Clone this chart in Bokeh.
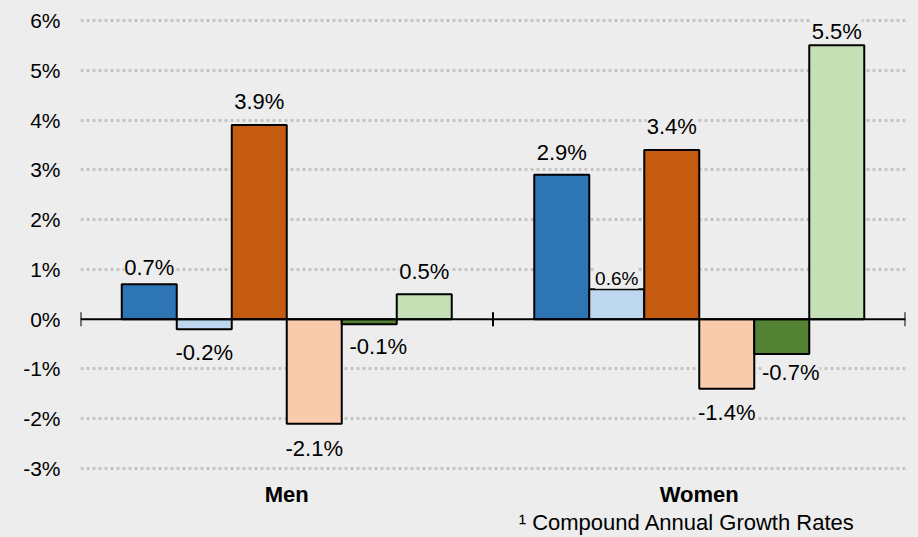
import math
from bokeh.plotting import figure
from bokeh.models import (ColumnDataSource, LabelSet, FixedTicker, PrintfTickFormatter,
                          LinearAxis, Span, Range1d)
from bokeh.core.properties import value
from bokeh.embed import file_html
from bokeh.resources import INLINE

groups = ["Men", "Women"]
series_colors = ["#2e75b6", "#bdd7ee", "#c55a11", "#f8cbad", "#548235", "#c5e0b4"]
men_values = [0.7, -0.2, 3.9, -2.1, -0.1, 0.5]
women_values = [2.9, 0.6, 3.4, -1.4, -0.7, 5.5]
y_ticks = [-3, -2, -1, 0, 1, 2, 3, 4, 5, 6]
footnote = "\u00b9 Compound Annual Growth Rates"

# label placement style (pixels from bar end to label centre, horizontal nudge, font size)
men_label_gap = [17, 23, 24, 25, 22, 23]
women_label_gap = [22, 11, 23, 24, 18, 14]
series_label_dx = [0, 0, 0, 0, 9, 0]
men_label_size = ["22px"] * 6
women_label_size = ["22px", "19px", "22px", "22px", "22px", "22px"]

FONT = "Liberation Sans"
BG = "#ededed"

values_by_group = [men_values, women_values]
gaps_by_group = [men_label_gap, women_label_gap]
sizes_by_group = [men_label_size, women_label_size]
n = len(series_colors)
group_span = 0.8
bw = group_span / n

xs, tops, cols, dys, dxs, fss, labels = [], [], [], [], [], [], []
for gi, vals in enumerate(values_by_group):
    for j, v in enumerate(vals):
        xs.append(gi + 0.5 + (j - (n - 1) / 2) * bw)
        tops.append(v)
        cols.append(series_colors[j])
        g = gaps_by_group[gi][j]
        dys.append(g if v >= 0 else -g)
        dxs.append(series_label_dx[j] if v < 0 else 0)
        fss.append(sizes_by_group[gi][j])
        labels.append(f"{v:.1f}%")

src = ColumnDataSource(dict(x=xs, top=tops, color=cols, dy=dys, dx=dxs, fs=fss, label=labels))

p = figure(width=918, height=537, output_backend="svg", toolbar_location=None,
           x_range=Range1d(0, len(groups)), y_range=Range1d(-3.1, 6.1),
           background_fill_color=BG, border_fill_color=BG,
           min_border_left=80, min_border_right=13, min_border_top=15, min_border_bottom=62,
           x_axis_location=None)
p.outline_line_color = None

p.vbar(x="x", top="top", bottom=0, width=bw, source=src, fill_color="color",
       line_color="black", line_width=2)

p.add_layout(Span(location=0, dimension="width", line_color="black", line_width=2))
bounds = list(range(len(groups) + 1))
p.scatter(x=bounds, y=[0] * len(bounds), marker="dash", angle=math.pi / 2, size=14,
          line_color="black", line_width=2)

p.add_layout(LabelSet(x="x", y="top", text="label", source=src, text_align="center",
                      text_baseline="middle", x_offset="dx", y_offset="dy",
                      text_font=value(FONT), text_font_size="fs", text_color="black",
                      background_fill_color=BG))

# y axis
p.yaxis.ticker = FixedTicker(ticks=y_ticks)
p.yaxis.formatter = PrintfTickFormatter(format="%d%%")
p.yaxis.axis_line_color = None
p.yaxis.major_tick_line_color = None
p.yaxis.minor_tick_line_color = None
p.yaxis.major_tick_out = 0
p.yaxis.major_label_standoff = 20
p.yaxis.major_label_text_font = FONT
p.yaxis.major_label_text_font_size = "21px"
p.yaxis.major_label_text_color = "black"

p.xgrid.grid_line_color = None
p.ygrid.ticker = FixedTicker(ticks=[t for t in y_ticks if t != 0])
p.ygrid.grid_line_color = "#c4c4c4"
p.ygrid.grid_line_width = 3
p.ygrid.grid_line_dash = "3 3"

# category axis
cat_ticks = [i + 0.5 for i in range(len(groups))]
xa = LinearAxis(ticker=FixedTicker(ticks=cat_ticks),
                major_label_overrides={t: g for t, g in zip(cat_ticks, groups)})
xa.axis_line_color = None
xa.major_tick_line_color = None
xa.minor_tick_line_color = None
xa.major_tick_out = 0
xa.major_label_standoff = 8
xa.major_label_text_font = FONT
xa.major_label_text_font_size = "22px"
xa.major_label_text_font_style = "bold"
xa.major_label_text_color = "black"
p.add_layout(xa, "below")

# footnote
fn_x = 1.47
fa = LinearAxis(ticker=FixedTicker(ticks=[fn_x]), major_label_overrides={fn_x: footnote})
fa.axis_line_color = None
fa.major_tick_line_color = None
fa.minor_tick_line_color = None
fa.major_tick_out = 0
fa.major_label_standoff = 0
fa.major_label_text_font = FONT
fa.major_label_text_font_size = "22px"
fa.major_label_text_color = "black"
p.add_layout(fa, "below")

html = file_html(p, INLINE)
html = html.replace("</head>", "<style>html, body { background: #ededed; }</style></head>", 1)
open("out.html", "w").write(html)
